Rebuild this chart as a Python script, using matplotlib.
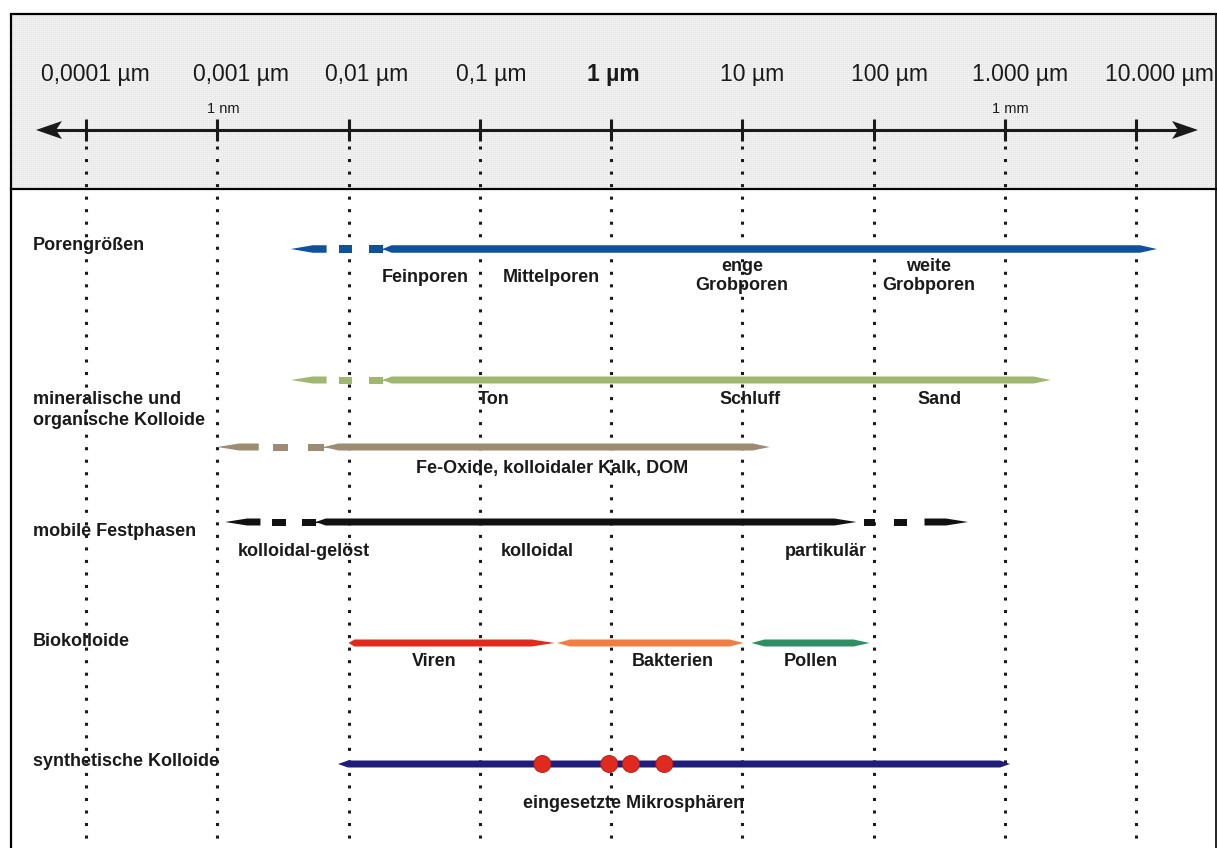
import numpy as np
import matplotlib
matplotlib.use("Agg")
import matplotlib.pyplot as plt
from matplotlib.patches import Polygon, Ellipse

plt.rcParams['font.family'] = ['Liberation Sans', 'DejaVu Sans']

# ---- scale (log10 of size in µm) ----
decades = [-4, -3, -2, -1, 0, 1, 2, 3, 4]
tick_labels = ["0,0001 µm", "0,001 µm", "0,01 µm", "0,1 µm", "1 µm",
               "10 µm", "100 µm", "1.000 µm", "10.000 µm"]
bold_tick = "1 µm"
unit_marks = {"1 nm": -3, "1 mm": 3}

# ---- size ranges, log10(µm): (dashed start, solid start, solid end, dashed end) ----
poren = (-2.44, -1.74, 4.16, None)
mineral = (-2.44, -1.74, 3.35, None)
fe_oxide = (-3.00, -2.19, 1.21, None)
festphasen = (-2.94, -2.25, 1.87, 2.72)
viren = (-2.00, -0.43)
bakterien = (-0.41, 1.01)
pollen = (1.07, 1.97)
synthetisch = (-2.08, 3.04)
mikrosphaeren_um = [0.3, 0.97, 1.42, 2.55]

row_labels = ["Porengrößen", "mineralische und\norganische Kolloide",
              "mobile Festphasen", "Biokolloide", "synthetische Kolloide"]
poren_labels = ["Feinporen", "Mittelporen", "enge\nGrobporen", "weite\nGrobporen"]
mineral_labels = ["Ton", "Schluff", "Sand"]
fe_label = "Fe-Oxide, kolloidaler Kalk, DOM"
festphasen_labels = ["kolloidal-gelöst", "kolloidal", "partikulär"]
bio_labels = ["Viren", "Bakterien", "Pollen"]
synth_label = "eingesetzte Mikrosphären"

# ---- colours ----
c_blue = "#0e529e"
c_green = "#9fb76e"
c_brown = "#9d8b73"
c_black = "#111111"
c_red = "#e02a1f"
c_orange = "#f07e42"
c_pollen = "#2f8f64"
c_navy = "#201c7a"

W, H = 1217, 848
DEC = 131.25          # pixels per decade
X0 = 86               # pixel of 10^-4 µm
fig = plt.figure(figsize=(W / 100, H / 100), dpi=100)
ax = fig.add_axes([0, 0, 1, 1])
ax.set_xlim(-4 - X0 / DEC, -4 + (W - X0) / DEC)
ax.set_ylim(H, 0)
ax.axis('off')
ax.patch.set_visible(False)

PX = 1.0 / DEC        # one pixel in decades


def px(p):
    return (p - X0) / DEC - 4


# header background: fine grey grid texture
hy0, hy1, hx0 = 14, 189, 11
hh, hw = hy1 - hy0, W - hx0
ii, jj = np.mgrid[0:hh, 0:hw]
tex = np.where((ii % 2 == 0) | (jj % 2 == 0), 0.91, 0.97)
img = np.dstack([tex, tex + 0.005, tex])
fig.figimage(np.clip(img, 0, 1), xo=hx0, yo=H - hy1, zorder=-1, origin='upper')

# frame and header separator
ax.plot([px(11), px(11)], [14, H + 5], color="black", lw=1.6, solid_capstyle='butt')
ax.plot([px(11), px(1216)], [14, 14], color="black", lw=1.6)
ax.plot([px(1216), px(1216)], [14, H + 5], color="black", lw=1.2)
ax.plot([px(11), px(1216)], [189, 189], color="black", lw=1.6)

# main scale axis with arrows
ay = 130
ax.plot([px(52), px(1182)], [ay, ay], color="#1a1a1a", lw=2.2, solid_capstyle='butt')
ax.add_patch(Polygon([(px(36), ay), (px(62), ay - 9), (px(56), ay), (px(62), ay + 9)],
                     closed=True, color="#1a1a1a", lw=0))
ax.add_patch(Polygon([(px(1198), ay), (px(1172), ay - 9), (px(1178), ay), (px(1172), ay + 9)],
                     closed=True, color="#1a1a1a", lw=0))
for d in decades:
    ax.plot([d, d], [119, 141], color="#1a1a1a", lw=2.2, solid_capstyle='butt')
    ax.plot([d, d], [146, H], color="#1a1a1a", lw=2.2,
            linestyle=(0, (1, 3.1)), dash_capstyle='butt')

label_shift = [9, 24, 18, 11, 2, 10, 16, 15, 23]
for d, t, s in zip(decades, tick_labels, label_shift):
    ax.text(d + s * PX, 75, t, ha='center', va='center', fontsize=16.5,
            fontweight='bold' if t == bold_tick else 'normal', color="#1a1a1a")
for t, d in unit_marks.items():
    ax.text(d + 6 * PX, 109, t, ha='center', va='center', fontsize=10.5, color="#1a1a1a")


def solid(x0, x1, y, h, color, tl, tr, z=3):
    pts = [(x0, y), (x0 + tl * PX, y - h / 2), (x1 - tr * PX, y - h / 2), (x1, y),
           (x1 - tr * PX, y + h / 2), (x0 + tl * PX, y + h / 2)]
    ax.add_patch(Polygon(pts, closed=True, facecolor=color, edgecolor='none', zorder=z))


def dashed(x0, x1, y, h, color, side):
    L = x1 - x0
    if side == 'left':
        fr = [('p', .39), ('g', .13), ('d', .15), ('g', .18), ('d', .15)]
    else:
        fr = [('g', .07), ('d', .10), ('g', .17), ('d', .11), ('g', .16), ('p', .39)]
    pos = x0
    for kind, f in fr:
        seg = f * L
        if kind == 'd':
            solid(pos, pos + seg, y, h, color, 0, 0)
        elif kind == 'p':
            if side == 'left':
                solid(pos, pos + seg, y, h, color, 22, 0)
            else:
                solid(pos, pos + seg, y, h, color, 0, 22)
        pos += seg


def range_bar(r, y, h, color, tl=9, tr=17):
    ds, ss, se, de = r
    dashed(ds, ss, y, h, color, 'left')
    ax.plot([ss - 2 * PX, ss + 4 * PX], [y, y], color=color, lw=0.8, zorder=3)
    solid(ss, se, y, h, color, tl, tr)
    if de is not None:
        dashed(se, de, y, h, color, 'right')


fs = 13
txt = dict(fontsize=fs, fontweight='bold', color="#1a1a1a", va='center')

# Porengrößen
range_bar(poren, 249, 7.5, c_blue)
for t, p in zip(poren_labels, [425, 551, 742, 929]):
    ax.text(px(p), 277 if "\n" not in t else 276, t, ha='center',
            linespacing=1.2, **txt)

# mineralische und organische Kolloide
range_bar(mineral, 380, 7, c_green)
for t, p in zip(mineral_labels, [494, 750, 940]):
    ax.text(px(p), 400, t, ha='center', **txt)
range_bar(fe_oxide, 447, 7, c_brown, tl=15)
ax.text(px(552), 468, fe_label, ha='center', **txt)

# mobile Festphasen
range_bar(festphasen, 522, 7, c_black, tl=10, tr=22)
for t, p in zip(festphasen_labels, [304, 537, 826]):
    ax.text(px(p), 552, t, ha='center', **txt)

# Biokolloide
solid(viren[0], viren[1], 643, 7, c_red, 6, 23)
solid(bakterien[0], bakterien[1], 643, 7, c_orange, 13, 14)
solid(pollen[0], pollen[1], 643, 7, c_pollen, 13, 16)
for t, p in zip(bio_labels, [434, 673, 811]):
    ax.text(px(p), 662, t, ha='center', **txt)

# synthetische Kolloide
solid(synthetisch[0], synthetisch[1], 764, 7, c_navy, 10, 10)
for m in mikrosphaeren_um:
    ax.add_patch(Ellipse((np.log10(m), 764), width=17 * PX, height=17,
                         facecolor=c_red, edgecolor="#b01d15", lw=0.6, zorder=5))
ax.text(px(634), 804, synth_label, ha='center', **txt)

# row headings
for t, y in zip(row_labels, [246, 410, 532, 641, 762]):
    ax.text(px(33), y, t, ha='left', linespacing=1.3, **txt)

fig.savefig("out.png", dpi=100)
